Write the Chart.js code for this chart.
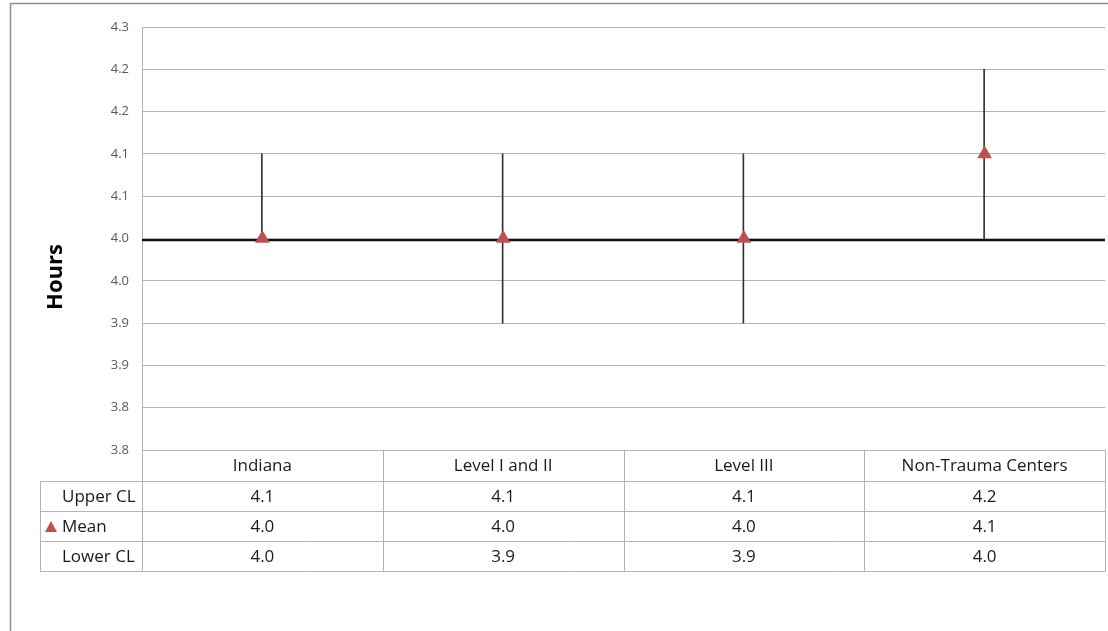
<!DOCTYPE html>
<html lang="en">
<head>
  <meta charset="UTF-8" />
  <title>Hours by Trauma Center Level</title>
  <script src="https://cdn.jsdelivr.net/npm/chart.js"></script>
  <style>
    html, body { margin: 0; padding: 0; background: #fff; }
    #wrap { width: 1108px; height: 631px; position: relative; }
  </style>
</head>
<body>
  <div id="wrap"><canvas id="hoursChart" width="1108" height="631"></canvas></div>

  <script>
    const categories = ['Indiana', 'Level I and II', 'Level III', 'Non-Trauma Centers'];
    const upperCL = [4.1, 4.1, 4.1, 4.2];
    const meanHours = [4.0, 4.0, 4.0, 4.1];
    const lowerCL = [4.0, 3.9, 3.9, 4.0];
    const stateLine = 3.998;   // Indiana reference line across the plot
    const rowLabels = ['Upper CL', 'Mean', 'Lower CL'];

    const FONT = '"Open Sans", "Noto Sans", sans-serif';
    const markerColor = '#C0504D';
    const gridColor = '#b4b4b4';

    // draws the frame, axis title and the data table under the plot
    const tablePlugin = {
      id: 'dataTable',
      beforeDraw(chart) {
        const c = chart.ctx;
        c.save();
        c.strokeStyle = '#8e8e8e';
        c.lineWidth = 1.5;
        c.beginPath();
        c.moveTo(10.5, 640);
        c.lineTo(10.5, 3.5);
        c.lineTo(1120, 3.5);
        c.stroke();
        c.restore();
      },
      afterDraw(chart) {
        const c = chart.ctx;
        const area = chart.chartArea;
        const x = chart.scales.x;
        const rows = [upperCL, meanHours, lowerCL];
        const top = area.bottom;
        const headH = 31, rowH = 30;
        const leftCol = 40;
        const half = (x.getPixelForValue(1) - x.getPixelForValue(0)) / 2;

        c.save();
        c.strokeStyle = gridColor;
        c.lineWidth = 1;
        // horizontal rules
        for (let r = 0; r <= rows.length; r++) {
          const yy = Math.round(top + headH + r * rowH) + 0.5;
          c.beginPath();
          c.moveTo(leftCol, yy);
          c.lineTo(area.right, yy);
          c.stroke();
        }
        const bottom = top + headH + rows.length * rowH;
        // vertical rules
        c.beginPath();
        c.moveTo(leftCol + 0.5, top + headH);
        c.lineTo(leftCol + 0.5, bottom);
        c.stroke();
        for (let i = 0; i <= categories.length; i++) {
          const xx = Math.round(x.getPixelForValue(i) - half) + 0.5;
          c.beginPath();
          c.moveTo(xx, top);
          c.lineTo(xx, bottom + 0.5);
          c.stroke();
        }

        c.fillStyle = '#1a1a1a';
        c.font = '17px ' + FONT;
        c.textAlign = 'center';
        c.textBaseline = 'middle';
        categories.forEach((cat, i) => {
          c.fillText(cat, x.getPixelForValue(i), top + headH / 2 + 1);
          rows.forEach((vals, r) => {
            c.fillText(vals[i].toFixed(1), x.getPixelForValue(i), top + headH + r * rowH + rowH / 2 + 1);
          });
        });
        c.textAlign = 'left';
        rowLabels.forEach((lab, r) => {
          c.fillText(lab, 62, top + headH + r * rowH + rowH / 2 + 1);
        });
        // legend key for the mean marker
        const ky = top + headH + rowH + rowH / 2 + 1;
        c.fillStyle = markerColor;
        c.beginPath();
        c.moveTo(51, ky - 6);
        c.lineTo(57, ky + 5);
        c.lineTo(45, ky + 5);
        c.closePath();
        c.fill();

        // y axis title
        c.save();
        c.translate(56, 277);
        c.rotate(-Math.PI / 2);
        c.fillStyle = '#000';
        c.font = 'bold 22px ' + FONT;
        c.textAlign = 'center';
        c.textBaseline = 'middle';
        c.fillText('Hours', 0, 0);
        c.restore();
        c.restore();
      }
    };

    const ctx = document.getElementById('hoursChart').getContext('2d');
    const hoursChart = new Chart(ctx, {
      data: {
        labels: categories,
        datasets: [
          {
            type: 'line',
            label: 'Mean',
            data: meanHours,
            showLine: false,
            pointStyle: 'triangle',
            pointRadius: 8.5,
            backgroundColor: markerColor,
            borderColor: markerColor,
            borderWidth: 0,
            order: 0
          },
          {
            type: 'line',
            label: 'Indiana',
            xAxisID: 'x2',
            data: [{ x: 0, y: stateLine }, { x: 1, y: stateLine }],
            borderColor: '#111',
            borderWidth: 2.2,
            pointRadius: 0,
            order: 1
          },
          {
            type: 'bar',
            label: 'CL',
            data: categories.map((_, i) => [lowerCL[i], upperCL[i]]),
            backgroundColor: '#333',
            barThickness: 1,
            order: 2
          }
        ]
      },
      options: {
        responsive: false,
        animation: false,
        layout: { autoPadding: false, padding: { left: 0, right: 3, top: 27, bottom: 181 } },
        plugins: { legend: { display: false }, tooltip: { enabled: false } },
        scales: {
          x: { display: false, offset: true, grid: { display: false } },
          x2: { type: 'linear', display: false, min: 0, max: 1 },
          y: {
            min: 3.75,
            max: 4.25,
            afterFit(scale) { scale.width = 142; },
            border: { display: true, color: gridColor },
            grid: { color: gridColor, drawTicks: false },
            ticks: {
              stepSize: 0.05,
              padding: 13,
              color: '#595959',
              font: { family: FONT, size: 13 },
              callback: v => (Math.round(v * 10 + 1e-6) / 10).toFixed(1)
            }
          }
        }
      },
      plugins: [tablePlugin]
    });
  </script>
</body>
</html>
